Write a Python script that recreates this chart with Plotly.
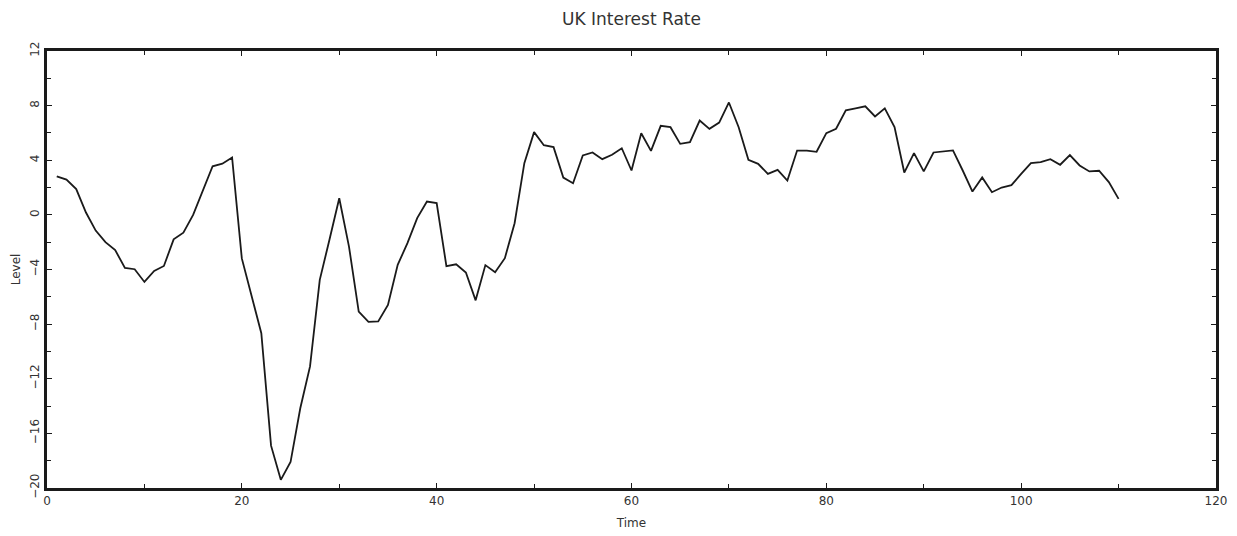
import plotly.graph_objects as go

# UK interest rate series (t = 1..110)
time = list(range(1, 111))
level = [
    2.82, 2.58, 1.89, 0.17, -1.15, -2.0, -2.58, -3.88, -3.98, -4.91,
    -4.1, -3.74, -1.79, -1.30, 0.0, 1.72, 3.56, 3.75, 4.2, -3.19,
    -5.86, -8.67, -16.9, -19.4, -18.1, -14.16, -11.1, -4.76, -1.8, 1.22,
    -2.32, -7.08, -7.84, -7.8, -6.6, -3.66, -2.07, -0.24, 0.98, 0.86,
    -3.75, -3.62, -4.22, -6.26, -3.68, -4.2, -3.17, -0.61, 3.79, 6.06,
    5.1, 4.96, 2.73, 2.32, 4.35, 4.57, 4.08, 4.4, 4.88, 3.25,
    5.98, 4.69, 6.52, 6.42, 5.2, 5.33, 6.91, 6.3, 6.76, 8.23,
    6.42, 4.03, 3.74, 3.0, 3.3, 2.51, 4.71, 4.71, 4.62, 5.99,
    6.31, 7.65, 7.8, 7.95, 7.21, 7.8, 6.43, 3.1, 4.52, 3.18,
    4.57, 4.62, 4.72, 3.25, 1.71, 2.74, 1.66, 2.0, 2.18, 3.0,
    3.79, 3.86, 4.08, 3.67, 4.38, 3.62, 3.18, 3.23, 2.4, 1.17,
]

x_ticks = [0, 20, 40, 60, 80, 100, 120]
y_ticks = [-20, -16, -12, -8, -4, 0, 4, 8, 12]
y_tick_text = ["\u221220", "\u221216", "\u221212", "\u22128", "\u22124", "0", "4", "8", "12"]

FONT = "DejaVu Sans"
INK = "#1a1a1a"
TEXT = "#333333"

fig = go.Figure()
fig.add_trace(go.Scatter(
    x=time, y=level,
    mode="lines",
    line=dict(color=INK, width=1.8),
    showlegend=False,
    hovertemplate="Time %{x}<br>Level %{y:.2f}<extra></extra>",
))

axis_common = dict(
    showgrid=False, zeroline=False, automargin=False,
    showline=True, linewidth=3, linecolor=INK, mirror="ticks",
    ticks="inside", ticklen=5, tickwidth=1, tickcolor=INK,
    tickfont=dict(family=FONT, size=12, color=TEXT),
)

# the page body adds an 8px offset, so margins are shifted to compensate
fig.update_layout(
    width=1237, height=536,
    paper_bgcolor="white", plot_bgcolor="white",
    margin=dict(l=39, r=29, t=43, b=56),
    title=dict(
        text="UK Interest Rate",
        xref="paper", x=0.5, xanchor="center",
        y=1 - 11 / 536, yanchor="middle",
        font=dict(family=FONT, size=17, color=TEXT),
    ),
    xaxis=dict(
        range=[0, 120],
        tickvals=x_ticks,
        minor=dict(dtick=10, ticks="inside", ticklen=4, tickcolor=INK, showgrid=False),
        title=dict(text="Time", font=dict(family=FONT, size=12, color=TEXT), standoff=12),
        **axis_common,
    ),
    yaxis=dict(
        range=[-20, 12],
        tickvals=y_ticks,
        ticktext=y_tick_text,
        tickangle=-90,
        minor=dict(dtick=2, ticks="inside", ticklen=4, tickcolor=INK, showgrid=False),
        title=dict(text="Level", font=dict(family=FONT, size=12, color=TEXT), standoff=6),
        **axis_common,
    ),
)

fig.write_html("out.html")
